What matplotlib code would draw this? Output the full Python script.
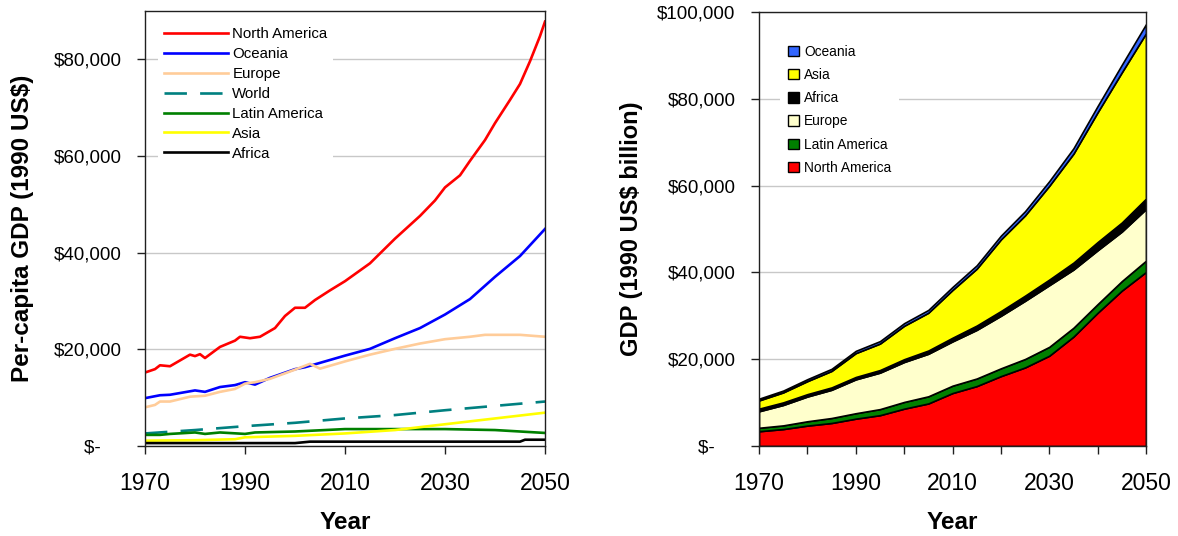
import numpy as np
import matplotlib
matplotlib.use('Agg')
import matplotlib.pyplot as plt
from matplotlib.patches import Patch
from matplotlib.ticker import FuncFormatter, MultipleLocator

plt.rcParams['font.family'] = ['Liberation Sans', 'DejaVu Sans']

# --- left panel: per-capita GDP (1990 US$) ---
na_years = [1970, 1972, 1973, 1975, 1977, 1979, 1980, 1981, 1982, 1985, 1988, 1989, 1991, 1993,
            1996, 1998, 2000, 2002, 2004, 2007, 2010, 2015, 2020, 2025, 2028, 2030, 2033, 2035,
            2038, 2040, 2043, 2045, 2047, 2049, 2050]
na_pc = [15200, 15900, 16700, 16500, 17700, 18900, 18600, 19000, 18200, 20500, 21800, 22600, 22300, 22600,
         24400, 26900, 28600, 28600, 30200, 32200, 34100, 37800, 42900, 47600, 50800, 53500, 56000, 59000,
         63300, 66800, 71600, 74900, 79600, 84800, 87800]

oc_years = [1970, 1973, 1975, 1980, 1982, 1985, 1988, 1990, 1992, 1995, 2000, 2002, 2005,
            2010, 2015, 2020, 2025, 2030, 2035, 2040, 2045, 2050]
oc_pc = [9900, 10500, 10600, 11500, 11200, 12200, 12600, 13200, 12700, 14100, 15900, 16300, 17200,
         18700, 20100, 22300, 24400, 27200, 30400, 35000, 39300, 44900]

eu_years = [1970, 1972, 1973, 1975, 1979, 1982, 1985, 1988, 1990, 1992, 1995, 2000, 2003, 2005,
            2010, 2015, 2020, 2025, 2030, 2035, 2038, 2045, 2050]
eu_pc = [8000, 8500, 9200, 9200, 10200, 10400, 11200, 11800, 12900, 13200, 13900, 15800, 17000, 16000,
         17500, 18900, 20100, 21200, 22100, 22600, 23000, 23000, 22600]

wo_years = [1970, 1980, 1985, 1990, 2000, 2010, 2020, 2030, 2040, 2050]
wo_pc = [2600, 3300, 3700, 4100, 4800, 5700, 6400, 7400, 8300, 9200]

la_years = [1970, 1973, 1975, 1980, 1982, 1985, 1990, 1992, 2000, 2010, 2020, 2030, 2040, 2045, 2050]
la_pc = [2300, 2300, 2500, 2800, 2500, 2800, 2500, 2800, 3000, 3500, 3500, 3500, 3300, 3000, 2700]

as_years = [1970, 1980, 1988, 1990, 2000, 2010, 2020, 2030, 2040, 2050]
as_pc = [1100, 1200, 1400, 1800, 2100, 2600, 3300, 4500, 5700, 6900]

af_years = [1970, 2000, 2003, 2045, 2046, 2050]
af_pc = [600, 600, 900, 900, 1300, 1300]

# --- right panel: GDP by region (1990 US$ billion), stacked ---
gdp_years = [1970, 1975, 1980, 1985, 1990, 1995, 2000, 2005, 2010,
             2015, 2020, 2025, 2030, 2035, 2040, 2045, 2050]
gdp_na = [3400, 3900, 4700, 5300, 6300, 7100, 8600, 9800, 12200,
          13800, 16100, 18100, 20800, 25200, 30700, 35800, 40100]
gdp_la = [800, 850, 1000, 1150, 1250, 1400, 1550, 1650, 1700,
          1750, 1800, 1950, 2050, 2050, 2000, 2200, 2600]
gdp_eu = [3800, 4700, 5700, 6500, 7800, 8400, 9200, 9800, 10200,
          11200, 12100, 13400, 14200, 13400, 12400, 11400, 11900]
gdp_af = [600, 600, 550, 550, 550, 600, 650, 750, 850,
          1000, 1100, 1200, 1300, 1600, 1900, 2100, 2400]
gdp_as = [1900, 2300, 3000, 3800, 5500, 6100, 7700, 8700, 11000,
          13100, 16500, 18500, 21600, 25100, 29900, 34600, 38100]
gdp_oc = [400, 420, 450, 480, 520, 560, 600, 650, 700,
          780, 870, 960, 1080, 1250, 1450, 1750, 2100]


def dollar_fmt(v, pos):
    if abs(v) < 1:
        return '$-    '
    return f'${v:,.0f}'


def style_axes(ax):
    for s in ax.spines.values():
        s.set_color('#202020')
        s.set_linewidth(1.0)
    ax.tick_params(axis='both', direction='out', length=6, width=1, color='#202020')
    ax.tick_params(axis='x', labelsize=16.5, pad=13)
    ax.tick_params(axis='y', labelsize=13.5, pad=11)
    ax.tick_params(axis='x', which='minor', length=6, width=1, color='#202020')
    ax.yaxis.set_major_formatter(FuncFormatter(dollar_fmt))
    ax.set_xlim(1970, 2050)
    ax.set_axisbelow(True)
    ax.yaxis.grid(True, color='#C8C8C8', linewidth=1)
    ax.set_xlabel('Year', fontsize=17.5, fontweight='bold', labelpad=11)


fig = plt.figure(figsize=(11.78, 5.36), dpi=100)
ax1 = fig.add_axes([145 / 1178, 90 / 536, 400 / 1178, 435 / 536])
ax2 = fig.add_axes([759 / 1178, 90 / 536, 387 / 1178, 434 / 536])

lw = 1.9
ax1.plot(na_years, na_pc, color='#FF0000', lw=lw, label='North America')
ax1.plot(oc_years, oc_pc, color='#0000FF', lw=lw, label='Oceania')
ax1.plot(eu_years, eu_pc, color='#FFCC99', lw=lw, label='Europe')
ax1.plot(wo_years, wo_pc, color='#008080', lw=lw, dashes=(8.5, 5), label='World')
ax1.plot(la_years, la_pc, color='#008000', lw=lw, label='Latin America')
ax1.plot(as_years, as_pc, color='#FFFF00', lw=lw, label='Asia')
ax1.plot(af_years, af_pc, color='#000000', lw=lw, label='Africa')

style_axes(ax1)
ax1.set_ylim(0, 90000)
ax1.set_yticks(np.arange(0, 90000, 20000))
ax1.set_xticks(np.arange(1970, 2051, 20))
ax1.set_ylabel('Per-capita GDP (1990 US$)', fontsize=17.5, fontweight='bold', labelpad=14)
leg1 = ax1.legend(loc='upper left', bbox_to_anchor=(0.032, 0.976), borderaxespad=0,
                  fontsize=10.8, handlelength=4.3, handletextpad=0.27, labelspacing=0.39,
                  borderpad=0.4, frameon=True, fancybox=False)
leg1.get_frame().set_facecolor('white')
leg1.get_frame().set_edgecolor('none')
leg1.get_frame().set_alpha(1)

colors = ['#FF0000', '#008000', '#FFFFCC', '#000000', '#FFFF00', '#3366FF']
names = ['North America', 'Latin America', 'Europe', 'Africa', 'Asia', 'Oceania']
ax2.stackplot(gdp_years, gdp_na, gdp_la, gdp_eu, gdp_af, gdp_as, gdp_oc,
              colors=colors, edgecolor='black', linewidth=1.2, labels=names)
style_axes(ax2)
ax2.set_ylim(0, 100000)
ax2.set_yticks(np.arange(0, 100001, 20000))
ax2.set_xticks(np.arange(1970, 2051, 20))
ax2.xaxis.set_minor_locator(MultipleLocator(10))
ax2.set_ylabel('GDP (1990 US$ billion)', fontsize=17, fontweight='bold', labelpad=10)

handles = [Patch(facecolor=c, edgecolor='black', linewidth=1) for c in colors][::-1]
leg2 = ax2.legend(handles, names[::-1], loc='upper left', bbox_to_anchor=(0.054, 0.943),
                  borderaxespad=0, fontsize=9.9, handlelength=0.8, handleheight=0.8,
                  handletextpad=0.37, labelspacing=0.67, borderpad=0.58,
                  frameon=True, fancybox=False)
leg2.get_frame().set_facecolor('white')
leg2.get_frame().set_edgecolor('none')
leg2.get_frame().set_alpha(1)

fig.savefig('out.png', dpi=100)
